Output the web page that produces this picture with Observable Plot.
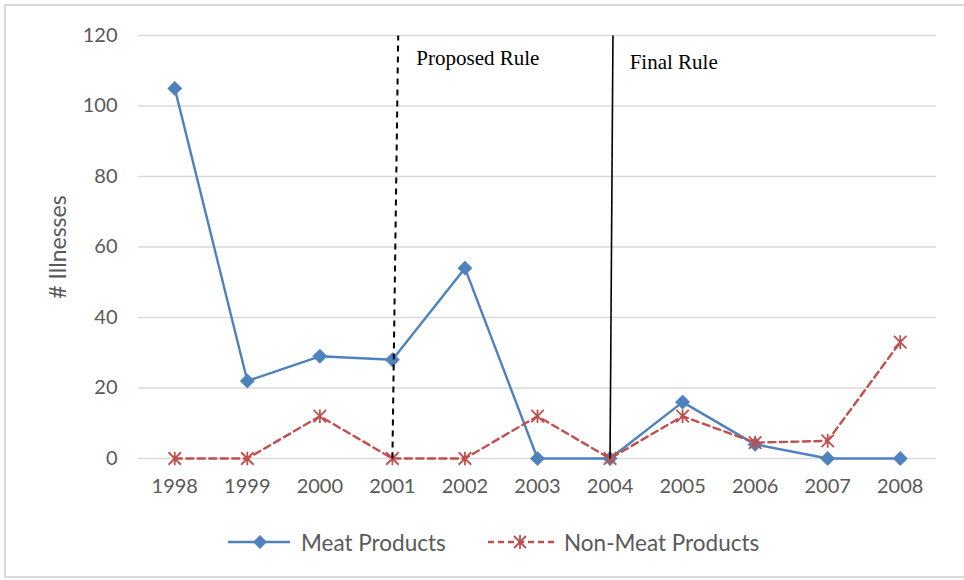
<!DOCTYPE html>
<html>
<head>
<meta charset="utf-8">
<script src="https://cdn.jsdelivr.net/npm/d3@7"></script>
<script src="https://cdn.jsdelivr.net/npm/@observablehq/plot@0.6"></script>
<style>
  html, body { margin: 0; padding: 0; background: #fff; }
  #wrap { position: relative; width: 964px; height: 580px; overflow: hidden; }
  #frame { position: absolute; left: 4px; top: 4px; width: 972px; height: 574px; border: 2px solid #d9d9d9; box-sizing: border-box; }
  #chart { position: absolute; left: 0; top: 0; }
  #legend { position: absolute; left: 0; top: 527px; width: 964px; height: 30px; font-family: Lato, sans-serif; font-size: 22.5px; color: #595959; }
  .item { position: absolute; top: 0; display: flex; align-items: center; height: 30px; }
  .item svg { display: block; }
</style>
</head>
<body>
<div id="wrap">
  <div id="frame"></div>
  <div id="chart"></div>
  <div id="legend"></div>
</div>
<script>
// ---- data ----
const years = [1998, 1999, 2000, 2001, 2002, 2003, 2004, 2005, 2006, 2007, 2008];
const meatProducts = [105, 22, 29, 28, 54, 0, 0, 16, 4, 0, 0];
const nonMeatProducts = [0, 0, 12, 0, 0, 12, 0, 12, 4.5, 5, 33];
const seriesNames = ["Meat Products", "Non-Meat Products"];
const yTicks = [0, 20, 40, 60, 80, 100, 120];
const yLabel = "# Illnesses";
// rule annotations (year at bottom, year at top, label)
const ruleNames = ["Proposed Rule", "Final Rule"];
const ruleYearBottom = [2001, 2004];
const ruleYearTop = [2001.08, 2004.04];
const ruleLabelYear = [2001.33, 2004.27];
const ruleLabelValue = [111.5, 110.5];

const blue = "#4f81bd", red = "#c0504d", grid = "#d9d9d9", textGray = "#595959";

const meat = years.map((y, i) => ({year: y, value: meatProducts[i]}));
const nonMeat = years.map((y, i) => ({year: y, value: nonMeatProducts[i]}));
const rules = ruleNames.map((n, i) => ({name: n, x1: ruleYearBottom[i], x2: ruleYearTop[i], y1: 0, y2: 120, lx: ruleLabelYear[i], ly: ruleLabelValue[i]}));

const diamondSym = {
  draw(ctx, size) {
    const r = Math.sqrt(size / Math.PI);
    ctx.moveTo(0, -r); ctx.lineTo(r, 0); ctx.lineTo(0, r); ctx.lineTo(-r, 0); ctx.closePath();
  }
};
const starSym = {
  draw(ctx, size) {
    const r = Math.sqrt(size / Math.PI);
    const d = r * 0.92;
    ctx.moveTo(-d, -d); ctx.lineTo(d, d);
    ctx.moveTo(-d, d); ctx.lineTo(d, -d);
    ctx.moveTo(0, -r); ctx.lineTo(0, r);
  }
};

const chart = Plot.plot({
  width: 964,
  height: 505,
  marginLeft: 138,
  marginRight: 28,
  marginTop: 35,
  marginBottom: 47,
  style: {fontFamily: "Lato, sans-serif", fontSize: "20px", background: "transparent", overflow: "visible"},
  x: {type: "linear", domain: [1997.5, 2008.5]},
  y: {type: "linear", domain: [0, 120]},
  marks: [
    Plot.ruleY(yTicks, {stroke: grid, strokeWidth: 1.6}),
    Plot.axisY({ticks: yTicks, tickSize: 0, tickPadding: 21, fontSize: 20, color: textGray, label: null}),
    Plot.text([yLabel], {frameAnchor: "left", textAnchor: "middle", rotate: -90, dx: -80, text: d => d, fontSize: 23, fill: textGray}),
    Plot.axisX({ticks: years, tickSize: 0, tickPadding: 20, fontSize: 20, color: textGray,
      tickFormat: d => String(d), label: null}),
    Plot.line(meat, {x: "year", y: "value", stroke: blue, strokeWidth: 2.4}),
    Plot.dot(meat, {x: "year", y: "value", symbol: diamondSym, r: 7.2, fill: blue, stroke: blue, strokeWidth: 0.5}),
    Plot.line(nonMeat, {x: "year", y: "value", stroke: red, strokeWidth: 2.4, strokeDasharray: "7,4.5"}),
    Plot.dot(nonMeat, {x: "year", y: "value", symbol: starSym, r: 6.8, stroke: red, strokeWidth: 1.8, fill: "none"}),
    Plot.link(rules.slice(0, 1), {x1: "x1", y1: "y1", x2: "x2", y2: "y2", stroke: "#000", strokeWidth: 2, strokeDasharray: "6,5"}),
    Plot.link(rules.slice(1, 2), {x1: "x1", y1: "y1", x2: "x2", y2: "y2", stroke: "#000", strokeWidth: 1.6}),
    Plot.text(rules, {x: "lx", y: "ly", text: "name", textAnchor: "start", lineAnchor: "bottom",
      fontFamily: "'Liberation Serif', 'Times New Roman', serif", fontSize: 21, fill: "#000"})
  ]
});
document.getElementById("chart").appendChild(chart);

// legend
const legend = document.getElementById("legend");
function addItem(left, name, kind) {
  const item = document.createElement("div");
  item.className = "item";
  item.style.left = left + "px";
  const w = kind === "meat" ? 62 : 70;
  const svg = d3.create("svg").attr("width", w).attr("height", 30)
    .style("margin-right", (kind === "meat" ? 11 : 6) + "px");
  if (kind === "meat") {
    svg.append("line").attr("x1", 0).attr("x2", w).attr("y1", 15).attr("y2", 15).attr("stroke", blue).attr("stroke-width", 2.4);
    svg.append("path").attr("d", "M32,8L39,15L32,22L25,15Z").attr("fill", blue);
  } else {
    svg.append("line").attr("x1", 0).attr("x2", w).attr("y1", 15).attr("y2", 15).attr("stroke", red).attr("stroke-width", 2.4).attr("stroke-dasharray", "6,4");
    svg.append("path").attr("d", "M26,9L38,21M26,21L38,9M32,8L32,22").attr("stroke", red).attr("stroke-width", 1.8);
  }
  item.appendChild(svg.node());
  const span = document.createElement("span");
  span.textContent = name;
  item.appendChild(span);
  legend.appendChild(item);
}
addItem(228, seriesNames[0], "meat");
addItem(488, seriesNames[1], "nonmeat");
</script>
</body>
</html>
